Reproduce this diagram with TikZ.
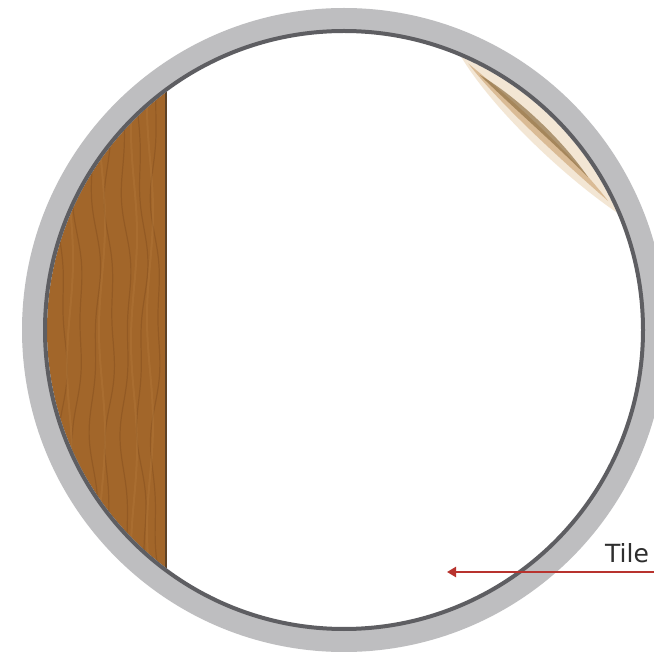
\documentclass[tikz,border=0pt]{standalone}
\usepackage{fontspec}
\setmainfont{DejaVu Sans}
\usetikzlibrary{arrows.meta,calc}
\definecolor{ringgray}{HTML}{BEBEC0}
\definecolor{ringdark}{HTML}{5E5E62}
\definecolor{woodbase}{HTML}{A2662A}
\definecolor{woodgrain}{HTML}{855020}
\definecolor{woodlight}{HTML}{B27739}
\definecolor{woodedge}{HTML}{5E4226}
\definecolor{streaklight}{HTML}{EAD3B2}
\definecolor{streakmid}{HTML}{CDA474}
\definecolor{streakdark}{HTML}{8A6A3C}
\definecolor{arrowred}{HTML}{B8332E}
\definecolor{labeltext}{HTML}{2E2E2E}
\tikzset{
  ring/.style={fill=ringgray, even odd rule},
  ringline/.style={draw=ringdark, line width=4pt},
  woodfill/.style={fill=woodbase},
  grain/.style={draw=woodgrain, line width=1.2pt, opacity=0.5},
  grainlight/.style={draw=woodlight, line width=2pt, opacity=0.45},
  label/.style={font=\fontsize{25}{29}\selectfont, text=labeltext, inner sep=0pt, anchor=base west},
  pointer/.style={draw=arrowred, line width=2.4pt, -{Triangle[length=9pt,width=10pt]}}
}
\begin{document}
\begin{tikzpicture}[x=1pt,y=-1pt]
\useasboundingbox (0,0) rectangle (654,652);
\fill[white] (0,0) rectangle (654,652);
\coordinate (c) at (344,330);
% wood strip
\begin{scope}
  \clip (c) circle (297);
  \fill[woodfill] (30,0) rectangle (167,652);
  \foreach \gx/\gp in {62/0, 78/40, 95/80, 110/20, 126/60, 142/100, 156/30}{
    \draw[grain] plot[variable=\t, domain=60:600, samples=60, smooth] ({\gx + 4*sin(\gp + 1.3*\t) + 2*sin(3.1*\t)}, \t);
  }
  \foreach \gx/\gp in {70/10, 102/70, 134/50, 150/90}{
    \draw[grainlight] plot[variable=\t, domain=60:600, samples=60, smooth] ({\gx + 3*sin(\gp + 1.7*\t)}, \t);
  }
  \draw[woodedge, line width=2pt] (166,0) -- (166,652);
  % streak upper right
  \fill[streaklight, opacity=0.55] ($(c)+(-67:298)$) arc[start angle=-67, end angle=-23, radius=298]
     .. controls ($(c)+(-35:268)$) and ($(c)+(-56:266)$) .. cycle;
  \fill[streakmid, opacity=0.65] ($(c)+(-65:294)$) .. controls ($(c)+(-55:286)$) and ($(c)+(-38:288)$) .. ($(c)+(-26:294)$)
     .. controls ($(c)+(-38:276)$) and ($(c)+(-55:274)$) .. cycle;
  \fill[streakdark, opacity=0.65] ($(c)+(-62:289)$) .. controls ($(c)+(-54:290)$) and ($(c)+(-42:290)$) .. ($(c)+(-32:288)$)
     .. controls ($(c)+(-42:281)$) and ($(c)+(-54:280)$) .. cycle;
\end{scope}
% ring
\fill[ring] (c) circle (322) (c) circle (298);
\draw[ringline] (c) circle (299);
% label and pointer
\node[label] (tile) at (605,562) {Tile};
\coordinate (pstart) at (654,572);
\coordinate (pend) at (447,572);
\draw[pointer] (pstart) -- (pend);
\end{tikzpicture}
\end{document}
